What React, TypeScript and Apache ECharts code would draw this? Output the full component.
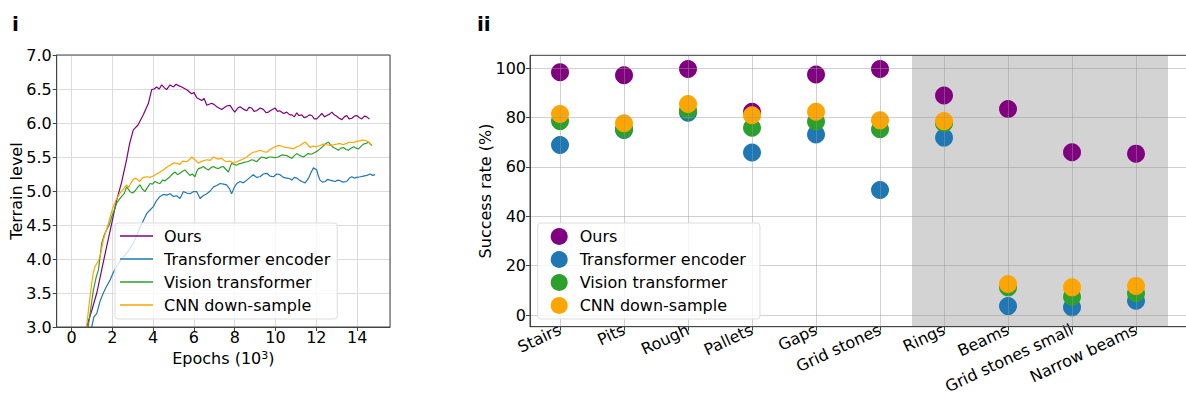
import React, { useEffect, useRef } from "react";
import * as echarts from "echarts";

// ---------- Panel i: terrain level vs epochs (10^3) ----------
const oursX = [0.4,0.74,1.0,1.24,1.48,1.72,1.97,2.2,2.45,2.7,2.85,3.03,3.26,3.52,3.77,3.93,4.05,4.17,4.3,4.42,4.55,4.66,4.83,5.0,5.12,5.25,5.4,5.65,5.89,6.0,6.14,6.38,6.5,6.63,6.87,7.0,7.12,7.36,7.6,7.77,7.9,8.0,8.15,8.26,8.45,8.59,8.7,8.83,8.95,9.07,9.25,9.4,9.55,9.65,9.8,9.98,10.1,10.2,10.4,10.55,10.7,10.8,10.92,11.04,11.15,11.29,11.4,11.53,11.65,11.78,11.9,12.02,12.15,12.27,12.4,12.51,12.65,12.76,12.88,13.0,13.12,13.25,13.37,13.49,13.6,13.74,13.86,13.98,14.1,14.23,14.35,14.47,14.6];
const oursY = [2.6,3.0,3.25,3.5,3.84,4.18,4.52,4.85,5.12,5.46,5.7,5.9,5.97,6.12,6.29,6.49,6.5,6.53,6.5,6.56,6.52,6.49,6.56,6.53,6.57,6.55,6.53,6.49,6.43,6.45,6.37,6.33,6.36,6.26,6.29,6.27,6.24,6.2,6.25,6.26,6.2,6.16,6.22,6.24,6.2,6.18,6.23,6.22,6.17,6.18,6.22,6.2,6.15,6.16,6.19,6.22,6.17,6.18,6.14,6.16,6.12,6.12,6.09,6.15,6.11,6.12,6.08,6.09,6.12,6.11,6.06,6.06,6.1,6.14,6.09,6.11,6.13,6.16,6.12,6.1,6.07,6.05,6.09,6.11,6.06,6.07,6.1,6.11,6.08,6.06,6.1,6.09,6.06];

const teX = [0.6,0.99,1.1,1.24,1.4,1.56,1.72,1.89,2.05,2.21,2.45,2.7,2.85,3.03,3.2,3.36,3.5,3.69,3.85,4.01,4.17,4.34,4.5,4.67,4.83,5.0,5.15,5.32,5.48,5.65,5.81,5.97,6.14,6.3,6.45,6.63,6.8,6.96,7.12,7.28,7.45,7.6,7.75,7.85,7.97,8.1,8.26,8.42,8.59,8.75,8.91,9.07,9.24,9.4,9.57,9.73,9.9,10.06,10.22,10.38,10.55,10.7,10.8,10.92,11.04,11.17,11.29,11.45,11.62,11.75,11.86,12.02,12.1,12.18,12.3,12.43,12.55,12.67,12.8,12.92,13.05,13.16,13.3,13.49,13.62,13.74,13.86,13.98,14.15,14.31,14.48,14.64,14.76,14.88];
const teY = [2.6,3.0,3.15,3.2,3.38,3.5,3.6,3.69,3.8,3.89,4.0,4.08,4.15,4.23,4.35,4.47,4.55,4.67,4.72,4.77,4.86,4.92,4.95,4.94,4.96,4.92,4.93,4.89,4.99,4.97,4.96,4.99,4.99,4.89,4.93,4.96,5.0,5.06,5.08,5.11,5.1,5.09,5.03,4.96,5.05,5.11,5.14,5.12,5.16,5.2,5.24,5.2,5.21,5.25,5.26,5.22,5.21,5.25,5.24,5.2,5.19,5.18,5.16,5.2,5.19,5.16,5.14,5.12,5.19,5.28,5.34,5.31,5.22,5.16,5.13,5.14,5.17,5.16,5.15,5.14,5.16,5.15,5.13,5.14,5.19,5.21,5.19,5.2,5.21,5.22,5.23,5.25,5.23,5.24];

const vitX = [0.5,0.82,1.07,1.2,1.32,1.48,1.6,1.72,1.85,1.97,2.1,2.21,2.35,2.46,2.58,2.7,2.87,3.0,3.11,3.23,3.35,3.47,3.6,3.72,3.85,3.97,4.09,4.22,4.34,4.46,4.58,4.7,4.83,4.95,5.07,5.2,5.32,5.44,5.56,5.68,5.8,5.92,6.05,6.13,6.22,6.34,6.46,6.58,6.71,6.83,6.95,7.08,7.2,7.32,7.44,7.56,7.69,7.77,7.85,7.97,8.09,8.21,8.34,8.46,8.59,8.71,8.83,8.95,9.07,9.2,9.32,9.44,9.56,9.68,9.81,9.97,10.14,10.3,10.55,10.68,10.8,10.92,11.04,11.2,11.37,11.5,11.6,11.77,11.94,12.06,12.18,12.3,12.43,12.59,12.7,12.84,12.96,13.08,13.2,13.33,13.45,13.57,13.7,13.82,13.95,14.07,14.2,14.31,14.44,14.56,14.64,14.72];
const vitY = [2.6,3.0,3.54,3.72,3.84,4.23,4.35,4.43,4.5,4.62,4.72,4.82,4.88,4.92,4.96,5.06,4.99,4.97,5.0,5.05,5.09,5.03,4.99,5.05,5.11,5.1,5.14,5.12,5.11,5.16,5.15,5.18,5.21,5.25,5.28,5.24,5.26,5.29,5.31,5.27,5.23,5.25,5.21,5.28,5.33,5.34,5.36,5.33,5.31,5.34,5.36,5.34,5.33,5.35,5.36,5.32,5.28,5.35,5.41,5.39,5.38,5.4,5.41,5.42,5.43,5.44,5.46,5.45,5.43,5.47,5.5,5.49,5.48,5.5,5.5,5.49,5.5,5.53,5.52,5.5,5.48,5.52,5.55,5.52,5.5,5.53,5.55,5.54,5.57,5.59,5.62,5.65,5.69,5.72,5.68,5.64,5.62,5.6,5.63,5.64,5.61,5.6,5.63,5.65,5.63,5.62,5.66,5.69,5.7,5.72,5.69,5.67];

const cnnX = [0.45,0.74,0.85,0.99,1.07,1.15,1.28,1.4,1.56,1.68,1.8,1.92,2.05,2.2,2.38,2.55,2.7,2.8,2.95,3.11,3.23,3.35,3.5,3.69,3.85,4.01,4.17,4.34,4.5,4.67,4.83,5.0,5.16,5.3,5.45,5.65,5.77,5.9,6.05,6.22,6.4,6.63,6.8,6.96,7.15,7.36,7.48,7.6,7.77,7.93,8.1,8.26,8.42,8.59,8.75,8.91,9.07,9.24,9.4,9.57,9.73,9.9,10.05,10.2,10.38,10.55,10.72,10.88,11.04,11.2,11.33,11.45,11.58,11.7,11.85,12.0,12.18,12.35,12.5,12.67,12.84,13.0,13.15,13.3,13.48,13.65,13.82,13.98,14.15,14.3,14.45,14.55,14.7];
const cnnY = [2.6,3.0,3.3,3.64,3.8,3.89,3.95,4.03,4.28,4.4,4.52,4.65,4.77,4.88,4.97,5.03,5.09,5.05,5.14,5.19,5.17,5.14,5.2,5.21,5.2,5.22,5.25,5.28,5.31,5.35,5.38,5.41,5.41,5.39,5.44,5.43,5.46,5.5,5.46,5.41,5.44,5.46,5.45,5.5,5.47,5.48,5.45,5.43,5.44,5.41,5.43,5.45,5.47,5.5,5.54,5.57,5.58,5.6,5.58,5.57,5.61,5.64,5.66,5.67,5.65,5.64,5.63,5.62,5.65,5.67,5.7,5.72,5.68,5.64,5.66,5.65,5.67,5.69,5.68,5.67,5.68,5.69,5.7,5.68,5.7,5.72,5.71,5.73,5.74,5.75,5.74,5.72,5.68];

// ---------- Panel ii: success rate per terrain ----------
const terrains = ["Stairs","Pits","Rough","Pallets","Gaps","Grid stones","Rings","Beams","Grid stones small","Narrow beams"];
const oursRate = [98.4, 97.2, 99.7, 82.4, 97.5, 99.7, 89.0, 83.5, 66.0, 65.4];
const teRate = [68.9, 75.0, 82.0, 65.9, 73.2, 50.7, 71.9, 3.6, 3.1, 5.8];
const vitRate = [78.6, 75.4, 83.0, 75.9, 78.4, 75.3, 77.7, 11.2, 7.4, 8.8];
const cnnRate = [81.5, 77.7, 85.5, 81.0, 82.4, 78.9, 78.6, 12.6, 11.2, 11.8];
const shadedStart = 5.5;
const shadedEnd = 9.5;

const seriesNames = ["Ours", "Transformer encoder", "Vision transformer", "CNN down-sample"];
const colors = ["#800080", "#1f77b4", "#2ca02c", "#ffa500"];

const FONT = "DejaVu Sans";

export default function App() {
  const ref = useRef<HTMLDivElement>(null);
  useEffect(() => {
    if (!ref.current) return;
    const chart = echarts.init(ref.current, null, { renderer: "svg" });
    const lineSets = [
      [oursX, oursY],
      [teX, teY],
      [vitX, vitY],
      [cnnX, cnnY],
    ];
    const rateSets = [oursRate, teRate, vitRate, cnnRate];
    const axisLineStyle = { color: "#444", width: 1 };
    const lineSeries = lineSets.map(([xs, ys], k) => ({
      name: seriesNames[k],
      type: "line",
      xAxisIndex: 0,
      yAxisIndex: 0,
      data: xs.map((x, i) => [x, ys[i]]),
      symbol: "none",
      showSymbol: false,
      clip: true,
      lineStyle: { width: 1.2, color: colors[k] },
      itemStyle: { color: colors[k] },
      z: 2 + k * 0.01,
    }));
    const scatterSeries = rateSets.map((vals, k) => ({
      name: seriesNames[k],
      type: "scatter",
      xAxisIndex: 1,
      yAxisIndex: 1,
      data: vals.map((v, i) => [i, v]),
      symbolSize: 18,
      itemStyle: { color: colors[k], opacity: 1 },
      z: 2,
      ...(k === 0
        ? {
            markArea: {
              silent: true,
              itemStyle: { color: "#d3d3d3" },
              data: [[{ xAxis: shadedStart }, { xAxis: shadedEnd }]],
            },
          }
        : {}),
    }));
    const legendCommon = {
      orient: "vertical",
      backgroundColor: "rgba(255,255,255,0.8)",
      borderColor: "#dddddd",
      borderWidth: 1,
      borderRadius: 3,
      selectedMode: false,
      data: seriesNames,
      textStyle: { fontFamily: FONT, fontSize: 16, color: "#000", lineHeight: 16 },
    };
    chart.setOption({
      animation: false,
      backgroundColor: "#ffffff",
      graphic: [
        { type: "text", x: 12, y: 14, style: { text: "i", font: `bold 20px "${FONT}"`, fill: "#000" } },
        { type: "text", x: 477, y: 14, style: { text: "ii", font: `bold 20px "${FONT}"`, fill: "#000" } },
      ],
      grid: [
        { left: 56.7, top: 55, width: 333.3, height: 272, show: true, borderColor: "#444", borderWidth: 1, backgroundColor: "transparent", z: 5 },
        { left: 530, top: 55.3, width: 680, height: 271.4, show: true, borderColor: "#444", borderWidth: 1, backgroundColor: "transparent", z: 5 },
      ],
      legend: [
        {
          ...legendCommon,
          left: 115,
          top: 223,
          padding: [5, 7, 6, 5],
          icon: "rect",
          itemWidth: 33,
          itemHeight: 1.6,
          itemGap: 7,
          textStyle: { ...legendCommon.textStyle, padding: [0, 0, 0, 6] },
        },
        {
          ...legendCommon,
          left: 537.7,
          top: 223,
          padding: [5, 14, 5, 13],
          icon: "circle",
          itemWidth: 17,
          itemHeight: 17,
          itemGap: 6,
          textStyle: { ...legendCommon.textStyle, padding: [0, 0, 0, 7] },
        },
      ],
      xAxis: [
        {
          type: "value",
          gridIndex: 0,
          min: -0.725,
          max: 15.61,
          minInterval: 2,
          maxInterval: 2,
          name: "{a|Epochs (10}{s|3}{a|)}",
          nameLocation: "middle",
          nameGap: 23,
          nameMoveOverlap: false,
          nameTextStyle: {
            rich: {
              a: { fontFamily: FONT, fontSize: 16, color: "#000", lineHeight: 16 },
              s: { fontFamily: FONT, fontSize: 11, color: "#000", lineHeight: 10, verticalAlign: "top" },
            },
          },
          axisLine: { show: true, onZero: false, lineStyle: axisLineStyle },
          axisTick: { show: true, inside: false, length: 4, lineStyle: axisLineStyle },
          axisLabel: { fontFamily: FONT, fontSize: 16, lineHeight: 14, color: "#000", margin: 3, showMinLabel: false, showMaxLabel: false },
          splitLine: { show: true, lineStyle: { color: "#dcdcdc", width: 1 } },
        },
        {
          type: "value",
          gridIndex: 1,
          min: -0.469,
          max: 10.156,
          minInterval: 1,
          maxInterval: 1,
          z: 3,
          axisLine: { show: true, onZero: false, lineStyle: axisLineStyle },
          axisTick: { show: true, inside: false, length: 4, lineStyle: axisLineStyle },
          axisLabel: {
            fontFamily: FONT,
            fontSize: 16,
            color: "#000",
            rotate: 25,
            margin: 2,
            showMinLabel: false,
            showMaxLabel: false,
            formatter: (v: number) => {
              const i = Math.round(v);
              return Math.abs(v - i) < 1e-6 && i >= 0 && i < terrains.length ? terrains[i] : "";
            },
          },
          splitLine: { show: true, lineStyle: { color: "rgba(150,150,150,0.45)", width: 1 } },
        },
      ],
      yAxis: [
        {
          type: "value",
          gridIndex: 0,
          min: 3,
          max: 7,
          interval: 0.5,
          name: "Terrain level",
          nameLocation: "middle",
          nameGap: 32,
          nameMoveOverlap: false,
          nameTextStyle: { fontFamily: FONT, fontSize: 16, color: "#000" },
          axisLine: { show: true, onZero: false, lineStyle: axisLineStyle },
          axisTick: { show: true, inside: false, length: 4, lineStyle: axisLineStyle },
          axisLabel: { fontFamily: FONT, fontSize: 16, color: "#000", margin: 5, formatter: (v: number) => v.toFixed(1) },
          splitLine: { show: true, lineStyle: { color: "#dcdcdc", width: 1 } },
        },
        {
          type: "value",
          gridIndex: 1,
          min: -4.74,
          max: 105.27,
          minInterval: 20,
          maxInterval: 20,
          z: 3,
          name: "Success rate (%)",
          nameLocation: "middle",
          nameGap: 37,
          nameMoveOverlap: false,
          nameTextStyle: { fontFamily: FONT, fontSize: 16, color: "#000" },
          axisLine: { show: true, onZero: false, lineStyle: axisLineStyle },
          axisTick: { show: true, inside: false, length: 4, lineStyle: axisLineStyle },
          axisLabel: { fontFamily: FONT, fontSize: 16, color: "#000", margin: 4, showMinLabel: false, showMaxLabel: false },
          splitLine: { show: true, lineStyle: { color: "rgba(150,150,150,0.45)", width: 1 } },
        },
      ],
      series: [...lineSeries, ...scatterSeries],
    });
    return () => chart.dispose();
  }, []);
  return (
    <div
      style={{ position: "fixed", left: 0, top: 0, width: 1186, height: 397, overflow: "hidden", background: "#fff" }}
    >
      <div ref={ref} style={{ width: 1240, height: 397 }} />
    </div>
  );
}
